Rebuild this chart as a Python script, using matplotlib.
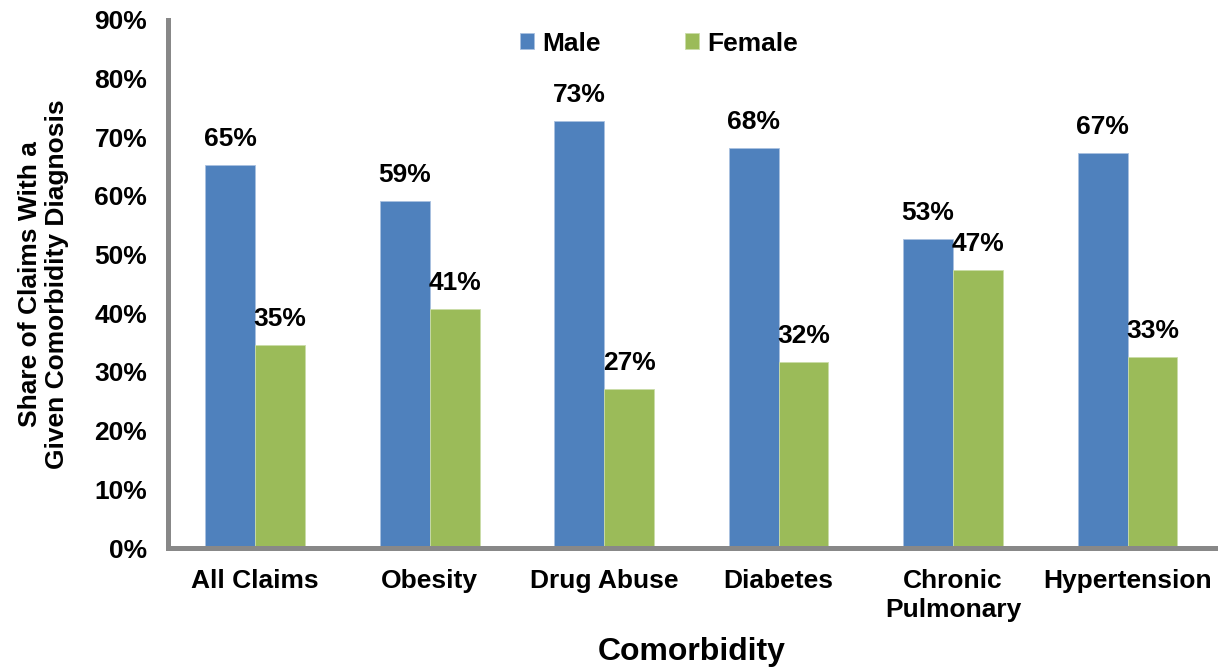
import numpy as np
import matplotlib.pyplot as plt

categories = ['All Claims', 'Obesity', 'Drug Abuse', 'Diabetes', 'Chronic\nPulmonary', 'Hypertension']
male = [65.3, 59.1, 72.8, 68.2, 52.7, 67.3]
female = [34.6, 40.7, 27.1, 31.7, 47.4, 32.6]

plt.rcParams['font.family'] = ['Liberation Sans', 'DejaVu Sans']
plt.rcParams['font.weight'] = 'bold'

fig = plt.figure(figsize=(12.2, 6.71), dpi=100)
ax = fig.add_axes([0.1377, 0.1833, 0.858, 0.787])

x = np.arange(len(categories))
w = 0.286
b1 = ax.bar(x - w/2, male, w, color='#4F81BD', edgecolor='#A9C1E0', linewidth=0.6, label='Male')
b2 = ax.bar(x + w/2, female, w, color='#9BBB59', edgecolor='#CADDA8', linewidth=0.6, label='Female')

for bars in (b1, b2):
    for r in bars:
        h = r.get_height()
        ax.annotate(f'{h:.0f}%', (r.get_x() + r.get_width()/2, h), xytext=(0, 10),
                    textcoords='offset points', ha='center', va='bottom',
                    fontsize=19, fontweight='bold')

ax.set_xlim(-0.5, 5.5)
ax.set_ylim(0, 90)
ax.set_yticks(np.arange(0, 91, 10))
ax.set_yticklabels([f'{v}%' for v in range(0, 91, 10)], fontsize=19, fontweight='bold')
ax.set_xticks(x)
ax.set_xticklabels(categories, fontsize=19, fontweight='bold', linespacing=1.25)
ax.tick_params(axis='both', length=0)
ax.tick_params(axis='x', pad=15)
ax.tick_params(axis='y', pad=15)

for s in ('top', 'right'):
    ax.spines[s].set_visible(False)
for s in ('left', 'bottom'):
    ax.spines[s].set_color('#888888')
    ax.spines[s].set_linewidth(3.6)

ax.set_ylabel('Share of Claims With a\nGiven Comorbidity Diagnosis', fontsize=19,
              fontweight='bold', labelpad=18, linespacing=1.15)
ax.set_xlabel('Comorbidity', fontsize=23, fontweight='bold', labelpad=11)

fig.legend(loc='center', bbox_to_anchor=(0.54, 0.935), ncol=2, frameon=False,
           handlelength=0.55, handleheight=0.55, columnspacing=3.2,
           handletextpad=0.3, prop={'weight': 'bold', 'size': 19})

fig.savefig('out.png', dpi=100)
